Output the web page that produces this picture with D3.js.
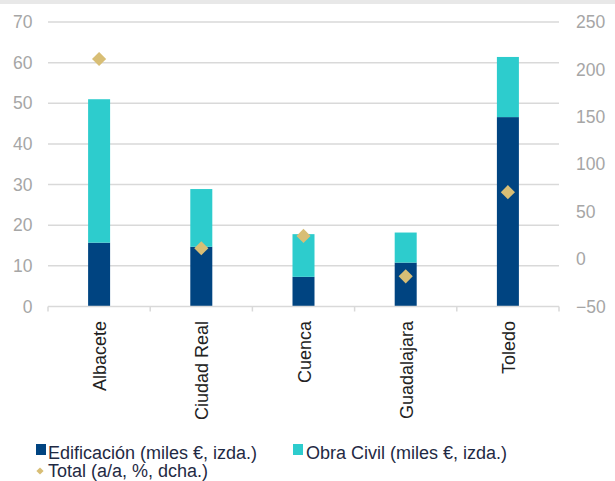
<!DOCTYPE html>
<html><head><meta charset="utf-8">
<script src="https://cdn.jsdelivr.net/npm/d3@7"></script>
<style>body{margin:0;background:#fff;}svg{display:block;font-family:"Liberation Sans",Arial,sans-serif;}</style>
</head><body><svg id="c" width="615" height="481"></svg>
<script>
const categories = ["Albacete","Ciudad Real","Cuenca","Guadalajara","Toledo"];
const edificacion = [15.7, 14.7, 7.3, 10.8, 46.6];
const obraCivil = [35.3, 14.2, 10.5, 7.4, 14.8];
const total = [211, 11.4, 24.4, -18.2, 70.6];
const leftTicks = [0,10,20,30,40,50,60,70];
const rightTicks = [-50,0,50,100,150,200,250];
const seriesNames = ["Edificación (miles €, izda.)","Obra Civil (miles €, izda.)","Total (a/a, %, dcha.)"];
const colors = {edif:"#004481", obra:"#2dcccd", total:"#d8be75", grid:"#d9d9d9", tick:"#a6a6a6", text:"#1f2a44"};
const FF = "Liberation Sans, Arial, sans-serif";

const svg = d3.select("#c");
svg.append("rect").attr("x",0).attr("y",0).attr("width",615).attr("height",4).attr("fill","#e8e8e8");

const L=48, R=559, T=22, B=306.5;
const x = d3.scaleBand().domain(categories).range([L,R]).paddingInner(0).paddingOuter(0);
const y = d3.scaleLinear().domain([0,70]).range([B,T]);
const y2 = d3.scaleLinear().domain([-50,250]).range([B,T]);

// grid
svg.append("g").selectAll("line").data(leftTicks.filter(d=>d>0)).join("line")
  .attr("x1",L).attr("x2",R).attr("y1",d=>y(d)).attr("y2",d=>y(d))
  .attr("stroke",colors.grid).attr("stroke-width",1.5);

// left axis labels
const gl = svg.append("g").attr("transform",`translate(${L},0)`)
  .call(d3.axisLeft(y).tickValues(leftTicks).tickSize(0).tickPadding(15.5));
gl.select(".domain").remove();
gl.attr("font-family",FF);
gl.selectAll("text").attr("fill",colors.tick).attr("font-size",17.5);

// right axis labels
const gr = svg.append("g").attr("transform",`translate(${R},0)`)
  .call(d3.axisRight(y2).tickValues(rightTicks).tickSize(0).tickPadding(17));
gr.select(".domain").remove();
gr.attr("font-family",FF);
gr.selectAll("text").attr("fill",colors.tick).attr("font-size",17.5);

// bars
const bw = 22;
const bars = svg.append("g");
categories.forEach((c,i)=>{
  const cx = x(c)+x.bandwidth()/2;
  bars.append("rect").attr("x",cx-bw/2).attr("width",bw)
    .attr("y",y(edificacion[i])).attr("height",y(0)-y(edificacion[i])).attr("fill",colors.edif);
  bars.append("rect").attr("x",cx-bw/2).attr("width",bw)
    .attr("y",y(edificacion[i]+obraCivil[i])).attr("height",y(edificacion[i])-y(edificacion[i]+obraCivil[i])).attr("fill",colors.obra);
});

// x axis
svg.append("line").attr("x1",L).attr("x2",R).attr("y1",B).attr("y2",B).attr("stroke",colors.grid).attr("stroke-width",1.5);
const bounds = categories.map(c=>x(c)).concat([R]);
svg.append("g").selectAll("line").data(bounds).join("line")
  .attr("x1",d=>d).attr("x2",d=>d).attr("y1",B).attr("y2",B+5).attr("stroke",colors.grid).attr("stroke-width",1.5);

// category labels
svg.append("g").selectAll("text").data(categories).join("text")
  .attr("transform",d=>`translate(${x(d)+x.bandwidth()/2+7},321) rotate(-90)`)
  .attr("text-anchor","end").attr("font-size",18).attr("fill","#222")
  .text(d=>d);

// diamonds
svg.append("g").selectAll("path").data(total).join("path")
  .attr("d", d3.symbol().type(d3.symbolSquare).size(100))
  .attr("transform",(d,i)=>`translate(${x(categories[i])+x.bandwidth()/2},${y2(d)}) rotate(45)`)
  .attr("fill",colors.total);

// legend
const lg = svg.append("g").attr("font-size",18).attr("fill",colors.text);
lg.append("rect").attr("x",36).attr("y",444).attr("width",10).attr("height",11).attr("fill",colors.edif);
lg.append("text").attr("x",48).attr("y",459).text(seriesNames[0]);
lg.append("rect").attr("x",293).attr("y",444).attr("width",10).attr("height",11).attr("fill",colors.obra);
lg.append("text").attr("x",306).attr("y",459).text(seriesNames[1]);
lg.append("path").attr("d",d3.symbol().type(d3.symbolSquare).size(26)).attr("transform","translate(40,471) rotate(45)").attr("fill",colors.total);
lg.append("text").attr("x",48).attr("y",477).text(seriesNames[2]);
</script></body></html>
